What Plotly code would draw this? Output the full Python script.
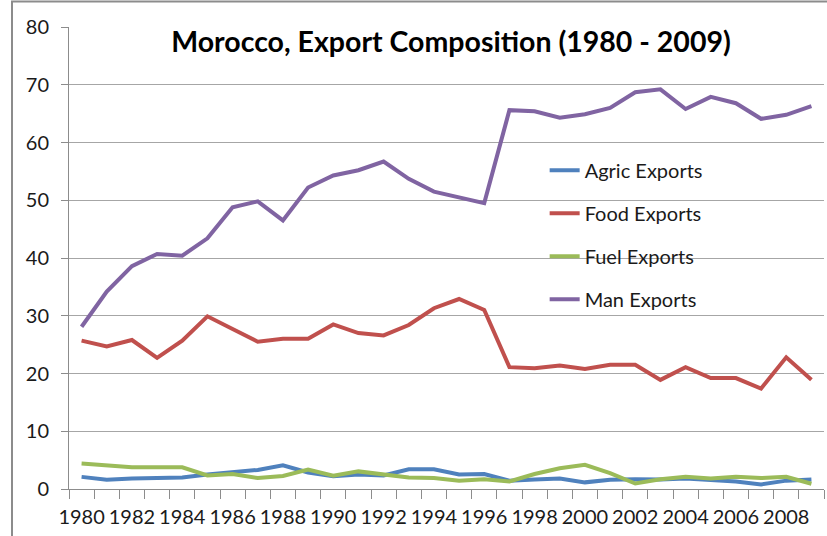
import plotly.graph_objects as go

years = list(range(1980, 2010))

agric_exports = [2.1, 1.6, 1.8, 1.95, 2.0, 2.5, 2.9, 3.3, 4.1, 2.85,
                 2.2, 2.5, 2.35, 3.4, 3.4, 2.5, 2.6, 1.45, 1.65, 1.8,
                 1.15, 1.6, 1.7, 1.65, 1.8, 1.55, 1.3, 0.8, 1.45, 1.65]
food_exports = [25.7, 24.7, 25.8, 22.7, 25.7, 29.9, 27.7, 25.5, 26.0, 26.0,
                28.5, 27.0, 26.6, 28.4, 31.3, 32.9, 31.0, 21.1, 20.9, 21.4,
                20.8, 21.5, 21.5, 18.9, 21.1, 19.2, 19.2, 17.4, 22.8, 18.9]
fuel_exports = [4.4, 4.15, 3.75, 3.75, 3.75, 2.35, 2.6, 1.9, 2.25, 3.35,
                2.3, 3.05, 2.6, 2.0, 1.9, 1.45, 1.7, 1.3, 2.6, 3.6,
                4.2, 2.75, 0.95, 1.7, 2.1, 1.8, 2.1, 1.9, 2.1, 0.9]
man_exports = [28.1, 34.2, 38.6, 40.7, 40.4, 43.4, 48.8, 49.8, 46.5, 52.2,
               54.3, 55.2, 56.7, 53.7, 51.5, 50.5, 49.5, 65.6, 65.4, 64.3,
               64.9, 66.0, 68.7, 69.2, 65.8, 67.9, 66.8, 64.1, 64.8, 66.3]

series_names = ["Agric Exports", "Food Exports", "Fuel Exports", "Man Exports"]
series_values = [agric_exports, food_exports, fuel_exports, man_exports]
series_colors = ["#4F81BD", "#C0504D", "#9BBB59", "#8064A2"]

x_tick_labels = [str(y) for y in years[::2]]
y_tick_values = list(range(0, 90, 10))

FONT = "Lato, 'Open Sans', sans-serif"
GRID = "#a6a6a6"

fig = go.Figure()
for i, (name, vals, col) in enumerate(zip(series_names, series_values, series_colors)):
    fig.add_trace(go.Scatter(
        x=years, y=vals, name=name, mode="lines",
        line=dict(color=col, width=4),
        legendgroup=f"g{i}",
    ))

boundaries = [y - 0.5 for y in years] + [years[-1] + 0.5]

fig.update_layout(
    width=827, height=536,
    margin=dict(l=69, r=3, t=27, b=47),
    paper_bgcolor="white", plot_bgcolor="white",
    font=dict(family=FONT, color="#1a1a1a", size=20),
    title=dict(
        text="<b>Morocco, Export Composition (1980 - 2009)</b>",
        font=dict(family=FONT, size=28.5, color="black"),
        x=451 / 827, xanchor="center",
        y=1 - 42 / 536, yanchor="middle",
    ),
    legend=dict(
        x=0.63, xanchor="left", y=0.732, yanchor="top",
        bgcolor="rgba(0,0,0,0)",
        font=dict(family=FONT, size=20, color="#1a1a1a"),
        traceorder="grouped", tracegroupgap=14,
        itemwidth=30,
    ),
    xaxis=dict(
        range=[years[0] - 0.5, years[-1] + 0.5],
        tickmode="array", tickvals=years[::2], ticktext=x_tick_labels,
        ticks="", showgrid=False,
        showline=True, linecolor="#8c8c8c", linewidth=1,
        ticklabelstandoff=10,
        minor=dict(tickmode="array", tickvals=boundaries, ticks="outside",
                   ticklen=9, tickcolor="#8c8c8c", tickwidth=1, showgrid=False),
        zeroline=False,
    ),
    yaxis=dict(
        range=[0, 80], tickmode="array", tickvals=y_tick_values,
        showgrid=True, gridcolor=GRID, gridwidth=1,
        ticks="outside", ticklen=7, tickcolor="#8c8c8c",
        showline=True, linecolor="#8c8c8c", linewidth=1,
        ticklabelstandoff=8,
        zeroline=False,
    ),
    shapes=[dict(
        type="path", xref="paper", yref="paper",
        path="M 1.2,1.0552 L -0.0755,1.0552 L -0.0755,-0.3",
        line=dict(color="#8c8c8c", width=2),
    )],
)

fig.write_html(
    "out.html",
    config={"displayModeBar": False},
    post_script="document.body.style.margin='0';document.body.style.overflow='hidden';",
)
